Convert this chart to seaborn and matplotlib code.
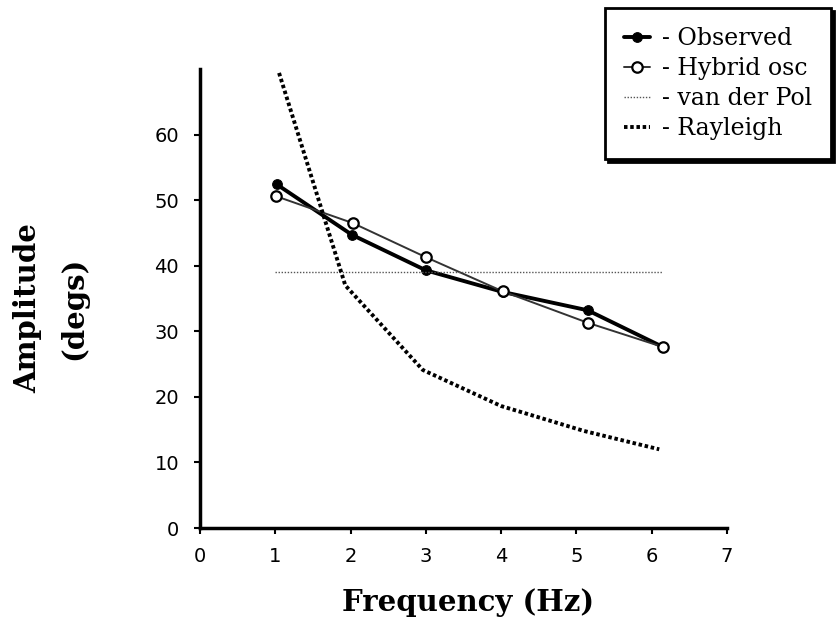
import matplotlib
matplotlib.use("Agg")
import matplotlib.pyplot as plt
import seaborn as sns

# values
obs_x = [1.02, 2.02, 3.0, 4.02, 5.15, 6.15]
obs_y = [52.4, 44.7, 39.3, 36.0, 33.2, 27.6]

hyb_x = [1.01, 2.03, 3.0, 4.02, 5.15, 6.15]
hyb_y = [50.6, 46.5, 41.3, 36.1, 31.3, 27.6]

vdp_x = [1.0, 6.15]
vdp_y = [39.0, 39.0]

ray_x = [1.05, 1.93, 2.96, 4.0, 5.1, 6.1]
ray_y = [69.4, 37.0, 24.1, 18.6, 14.8, 12.0]

x_ticks = [0, 1, 2, 3, 4, 5, 6, 7]
y_ticks = [0, 10, 20, 30, 40, 50, 60]

sns.set_style("ticks")
plt.rcParams["text.color"] = "black"
plt.rcParams["axes.labelcolor"] = "black"

fig = plt.figure(figsize=(8.36, 6.26), dpi=100)
ax = fig.add_axes([200 / 836, 1 - 528 / 626, 527 / 836, 459 / 626])

sns.lineplot(x=obs_x, y=obs_y, ax=ax, sort=False, color="black", lw=2.8,
             marker="o", markersize=7, markerfacecolor="black",
             markeredgecolor="black", label="- Observed")
sns.lineplot(x=hyb_x, y=hyb_y, ax=ax, sort=False, color="#333333", lw=1.4,
             marker="o", markersize=7.5, markerfacecolor="white",
             markeredgecolor="black", markeredgewidth=1.6, label="- Hybrid osc")
sns.lineplot(x=vdp_x, y=vdp_y, ax=ax, sort=False, color="#555555", lw=1.0,
             linestyle=(0, (1, 1.2)), label="- van der Pol")
sns.lineplot(x=ray_x, y=ray_y, ax=ax, sort=False, color="black", lw=2.8,
             linestyle=(0, (0.9, 0.7)), label="- Rayleigh")

ax.set_xlim(0, 7)
ax.set_ylim(0, 70)
ax.set_xticks(x_ticks)
ax.set_yticks(y_ticks)
ax.tick_params(axis="both", direction="out", length=4, width=1.5,
               labelsize=14, color="black", labelcolor="black")
ax.tick_params(axis="y", pad=11)
ax.tick_params(axis="x", pad=10)
for t in ax.get_xticklabels() + ax.get_yticklabels():
    t.set_family("DejaVu Sans")

sns.despine(ax=ax)
for side in ["left", "bottom"]:
    ax.spines[side].set_linewidth(2.5)
    ax.spines[side].set_color("black")

ax.set_xlabel("Frequency (Hz)", family="DejaVu Serif", fontweight="bold",
              fontsize=21)
ax.xaxis.set_label_coords(0.509, -0.13)
ax.set_ylabel("Amplitude\n(degs)", family="DejaVu Serif", fontweight="bold",
              fontsize=21, multialignment="center", linespacing=1.75)
ax.yaxis.set_label_coords(-0.2125, 0.479)

leg = ax.legend(loc="upper right", bbox_to_anchor=(831 / 836, 1 - 8 / 626),
                bbox_transform=fig.transFigure, frameon=True, fancybox=False,
                prop={"family": "DejaVu Serif", "size": 17},
                handlelength=1.1, handletextpad=0.5, labelspacing=0.3,
                borderpad=0.8, borderaxespad=0,
                shadow={"color": "black", "alpha": 1.0})
leg.get_frame().set_edgecolor("black")
leg.get_frame().set_linewidth(2.0)
leg.get_frame().set_facecolor("white")
leg.get_frame().set_alpha(1.0)

fig.savefig("out.png", dpi=100)
